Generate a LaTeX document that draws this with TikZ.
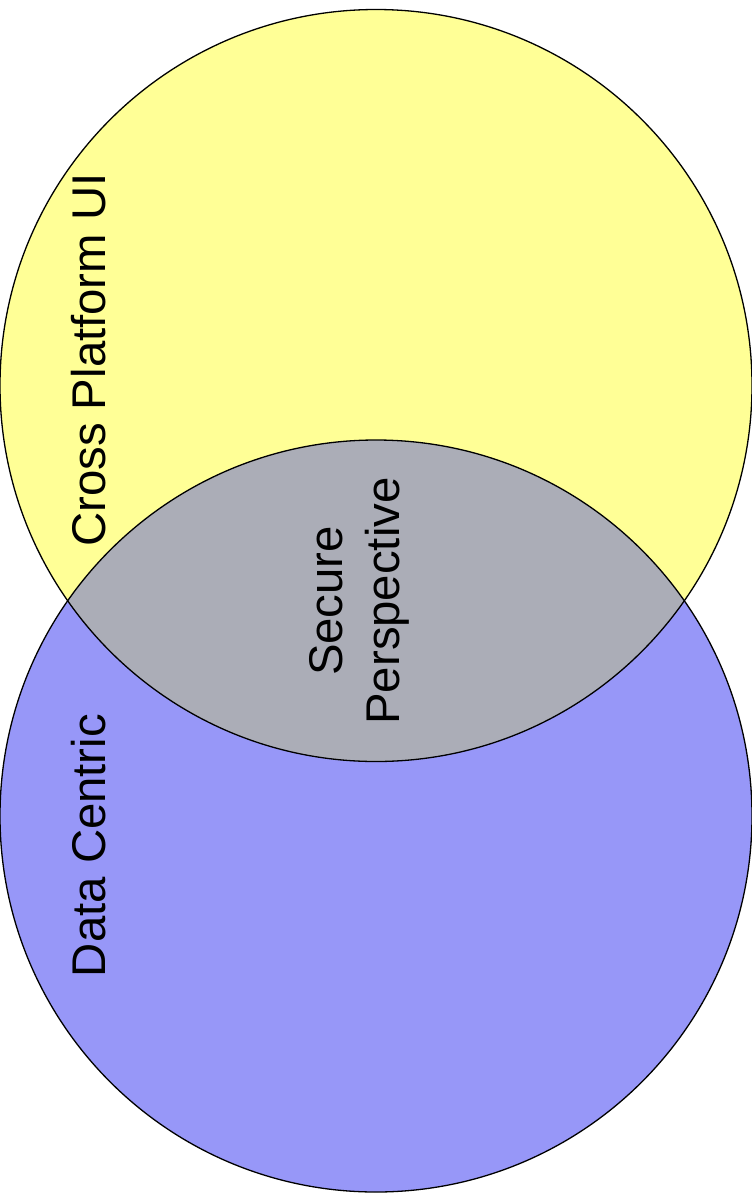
\documentclass[tikz,border=0pt]{standalone}
\usepackage{fontspec}
\setmainfont{Liberation Sans}
\definecolor{topfill}{HTML}{FFFF96}
\definecolor{botfill}{HTML}{9797F8}
\definecolor{midfill}{HTML}{ABADB7}
\begin{document}
\begin{tikzpicture}[x=1bp,y=-1bp,
  ring/.style={draw=black,line width=1.3bp},
  label/.style={rotate=90,font=\fontsize{47.5}{57}\selectfont,inner sep=0pt}]
\useasboundingbox (0,0) rectangle (752,1195);
\fill[white] (0,0) rectangle (752,1195);
% the two sets
\coordinate (ctop) at (376,385.5);
\coordinate (cbot) at (376,816);
\fill[topfill] (ctop) circle[radius=376];
\fill[botfill] (cbot) circle[radius=376];
% their overlap
\begin{scope}
  \clip (ctop) circle[radius=376];
  \fill[midfill] (cbot) circle[radius=376];
\end{scope}
\draw[ring] (ctop) circle[radius=376];
\draw[ring] (cbot) circle[radius=376];
% labels
\node[label,anchor=base] (ui) at (105,360) {Cross Platform UI};
\node[label,anchor=base] (data) at (105,845.5) {Data Centric};
\node[label,align=center] (secure) at (359.5,601) {Secure\\Perspective};
\end{tikzpicture}
\end{document}
